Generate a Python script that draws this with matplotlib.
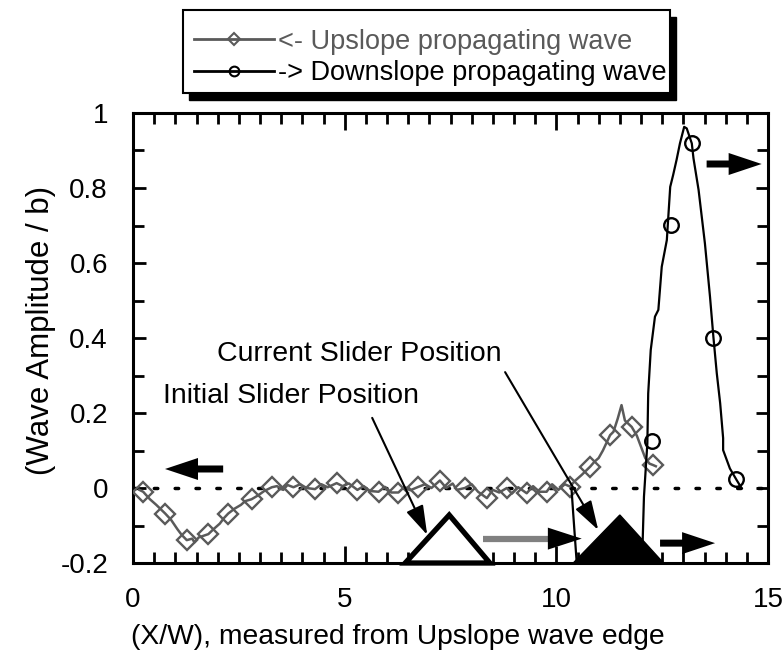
import matplotlib
matplotlib.use('Agg')
import matplotlib.pyplot as plt
from matplotlib.patches import Polygon, Rectangle, FancyArrow
from matplotlib.lines import Line2D
from matplotlib.ticker import MultipleLocator

plt.rcParams['font.family'] = ['Liberation Sans', 'DejaVu Sans']

# ---------------- data ----------------
up_x = [0.15, 0.24, 0.40, 0.55, 0.76, 0.90, 1.05, 1.15, 1.27, 1.40, 1.45, 1.55, 1.65, 1.78,
        1.90, 2.05, 2.15, 2.25, 2.40, 2.55, 2.65, 2.80, 2.95, 3.10, 3.28, 3.40, 3.55, 3.65,
        3.79, 3.95, 4.10, 4.30, 4.45, 4.60, 4.81, 4.95, 5.10, 5.30, 5.45, 5.60, 5.80, 5.95,
        6.10, 6.27, 6.40, 6.55, 6.74, 6.90, 7.05, 7.25, 7.40, 7.55, 7.65, 7.84, 8.00, 8.15,
        8.36, 8.50, 8.65, 8.83, 8.95, 9.10, 9.30, 9.45, 9.60, 9.77, 9.90, 10.05, 10.20, 10.32,
        10.45, 10.60, 10.80, 10.90, 11.00, 11.10, 11.27, 11.35, 11.45, 11.54, 11.62, 11.78,
        11.90, 12.00, 12.10, 12.20, 12.29, 12.35]
up_y = [-0.005, -0.010, -0.030, -0.045, -0.068, -0.085, -0.110, -0.125, -0.139, -0.135, -0.145,
        -0.132, -0.128, -0.123, -0.110, -0.095, -0.080, -0.068, -0.055, -0.045, -0.035, -0.030,
        -0.020, -0.008, 0.002, 0.005, -0.005, 0.008, 0.002, 0.010, 0.000, -0.003, 0.010, 0.002,
        0.013, 0.005, 0.012, -0.005, 0.005, -0.008, -0.010, 0.003, -0.012, -0.012, 0.002, -0.006,
        0.003, 0.010, 0.000, 0.020, 0.000, 0.012, -0.005, 0.000, 0.010, -0.010, -0.027, -0.005,
        -0.012, 0.000, -0.015, 0.002, -0.014, 0.005, -0.010, -0.010, 0.010, -0.005, 0.010, 0.004,
        0.020, 0.035, 0.057, 0.070, 0.080, 0.100, 0.141, 0.150, 0.185, 0.221, 0.180, 0.163,
        0.140, 0.110, 0.080, 0.065, 0.061, 0.058]
up_mk_x = [0.24, 0.76, 1.27, 1.78, 2.25, 2.80, 3.28, 3.79, 4.30, 4.81, 5.30, 5.80, 6.27, 6.74,
           7.25, 7.84, 8.36, 8.83, 9.30, 9.77, 10.32, 10.80, 11.27, 11.78, 12.29]
up_mk_y = [-0.010, -0.068, -0.139, -0.123, -0.068, -0.030, 0.002, 0.002, -0.003, 0.013, -0.005,
           -0.010, -0.012, 0.003, 0.020, 0.000, -0.027, 0.000, -0.014, -0.010, 0.004, 0.057,
           0.141, 0.163, 0.061]

down_x = [10.36, 10.40, 10.48, 10.52, 11.95, 12.04, 12.07, 12.15, 12.17, 12.23, 12.33, 12.41,
          12.49, 12.61, 12.69, 12.76, 12.84, 12.92, 13.02, 13.08, 13.20, 13.24, 13.36, 13.51,
          13.63, 13.71, 13.79, 13.87, 13.94, 13.94, 14.10, 14.26, 14.38]
down_y = [-0.005, -0.070, -0.197, -0.260, -0.260, -0.139, -0.023, 0.119, 0.252, 0.368, 0.457,
          0.475, 0.590, 0.661, 0.803, 0.835, 0.875, 0.919, 0.963, 0.959, 0.919, 0.879, 0.795,
          0.652, 0.510, 0.403, 0.306, 0.226, 0.133, 0.101, 0.052, 0.021, -0.001]
down_mk_x = [12.25, 12.72, 13.21, 13.71, 14.24]
down_mk_y = [0.125, 0.701, 0.921, 0.401, 0.023]

x_ticks = [0, 5, 10, 15]
x_tick_labels = ['0', '5', '10', '15']
y_ticks = [-0.2, 0, 0.2, 0.4, 0.6, 0.8, 1.0]
y_tick_labels = ['-0.2', '0', '0.2', '0.4', '0.6', '0.8', '1']
legend_labels = ['<- Upslope propagating wave', '-> Downslope propagating wave']

GRAY = '#5a5a5a'

# ---------------- figure ----------------
W, H = 783, 651
fig = plt.figure(figsize=(W / 100, H / 100), dpi=100)
ax = fig.add_axes([133 / W, 1 - 563 / H, (768 - 133) / W, (563 - 113) / H])
ax.set_xlim(0, 15)
ax.set_ylim(-0.2, 1.0)

ax.axhline(0, color='black', lw=2.5, linestyle=(0, (1, 5)), dash_capstyle='round', zorder=1)

ax.plot(up_x, up_y, color=GRAY, lw=1.8, zorder=3)
ax.plot(up_mk_x, up_mk_y, linestyle='none', marker='D', ms=10, mfc='none', mec=GRAY,
        mew=1.7, zorder=3)
ax.plot(down_x, down_y, color='black', lw=1.6, zorder=4)
ax.plot(down_mk_x, down_mk_y, linestyle='none', marker='o', ms=10.5, mfc='none', mec='black',
        mew=1.7, zorder=4)

# slider triangles
ax.add_patch(Polygon([(6.43, -0.2), (7.47, -0.072), (8.43, -0.2)], closed=True,
                     facecolor='white', edgecolor='black', lw=3.8, joinstyle='miter',
                     clip_on=False, zorder=6))
ax.add_patch(Polygon([(10.4, -0.2), (11.5, -0.072), (12.53, -0.2)], closed=True,
                     facecolor='black', edgecolor='black', lw=1, clip_on=False, zorder=6))

# direction arrows (horizontal)
hw = 22 / 375.0
hl = 33 / 42.33
sw = 7 / 375.0
ax.add_patch(FancyArrow(2.13, 0.0507, 0.756 - 2.13, 0, width=sw, head_width=hw, head_length=hl,
                        length_includes_head=True, color='black', lw=0, zorder=7))
ax.add_patch(FancyArrow(13.55, 0.864, 14.85 - 13.55, 0, width=sw, head_width=hw, head_length=hl,
                        length_includes_head=True, color='black', lw=0, zorder=7, clip_on=False))
ax.add_patch(FancyArrow(12.45, -0.147, 13.75 - 12.45, 0, width=sw, head_width=hw, head_length=hl,
                        length_includes_head=True, color='black', lw=0, zorder=7))
# gray arrow with black head
ax.plot([8.27, 9.85], [-0.135, -0.135], color='#808080', lw=4.5, solid_capstyle='butt', zorder=7)
ax.add_patch(Polygon([(9.80, -0.135 + hw / 2), (10.6, -0.135), (9.80, -0.135 - hw / 2)],
                     closed=True, facecolor='black', edgecolor='none', zorder=7))

# annotations
ax.text(1.98, 0.357, 'Current Slider Position', fontsize=20.5, va='center', ha='left')
ax.text(0.71, 0.245, 'Initial Slider Position', fontsize=20.5, va='center', ha='left')
ap = dict(arrowstyle='-|>,head_length=0.9,head_width=0.28', color='black', lw=1.5,
          mutation_scale=20, shrinkA=0, shrinkB=0)
ax.annotate('', xy=(10.99, -0.112), xytext=(8.79, 0.309), arrowprops=ap, zorder=8)
ax.annotate('', xy=(6.95, -0.125), xytext=(5.65, 0.187), arrowprops=ap, zorder=8)

# axes styling
ax.set_xticks(x_ticks)
ax.set_xticklabels(x_tick_labels)
ax.set_yticks(y_ticks)
ax.set_yticklabels(y_tick_labels)
ax.xaxis.set_minor_locator(MultipleLocator(0.5))
ax.yaxis.set_minor_locator(MultipleLocator(0.1))
ax.tick_params(which='both', direction='in', top=True, right=True, width=2, labelsize=20)
ax.tick_params(axis='x', which='major', length=12, pad=17)
ax.tick_params(axis='y', which='major', length=9, pad=18)
ax.tick_params(which='minor', length=8)
for s in ax.spines.values():
    s.set_linewidth(2.2)
fig.text(398 / W, 1 - 637 / H, '(X/W), measured from Upslope wave edge', fontsize=20.3,
         ha='center', va='center')
fig.text(41 / W, 1 - 330 / H, '(Wave Amplitude / b)', fontsize=22.5, rotation=90,
         ha='center', va='center')

# legend with shadowed box
fig.patches.append(Rectangle((189 / W, 1 - 100 / H), (670 - 183) / W, (93 - 10) / H,
                             transform=fig.transFigure, facecolor='black', edgecolor='black',
                             zorder=0))
fig.patches.append(Rectangle((183 / W, 1 - 93 / H), (670 - 183) / W, (93 - 10) / H,
                             transform=fig.transFigure, facecolor='white', edgecolor='black',
                             lw=1.5, zorder=1))
handles = [Line2D([], [], color=GRAY, lw=2, marker='D', ms=6, mfc='none', mec=GRAY, mew=1.5),
           Line2D([], [], color='black', lw=2, marker='o', ms=7, mfc='none', mec='black', mew=1.5)]
fig.legend(handles, legend_labels, loc='center', bbox_to_anchor=(430 / W, 1 - 57.5 / H),
           bbox_transform=fig.transFigure, frameon=False, fontsize=19.5, handlelength=2.95,
           handletextpad=0.15, labelspacing=0.22, labelcolor=[GRAY, 'black'])

fig.savefig('out.png', dpi=100)
